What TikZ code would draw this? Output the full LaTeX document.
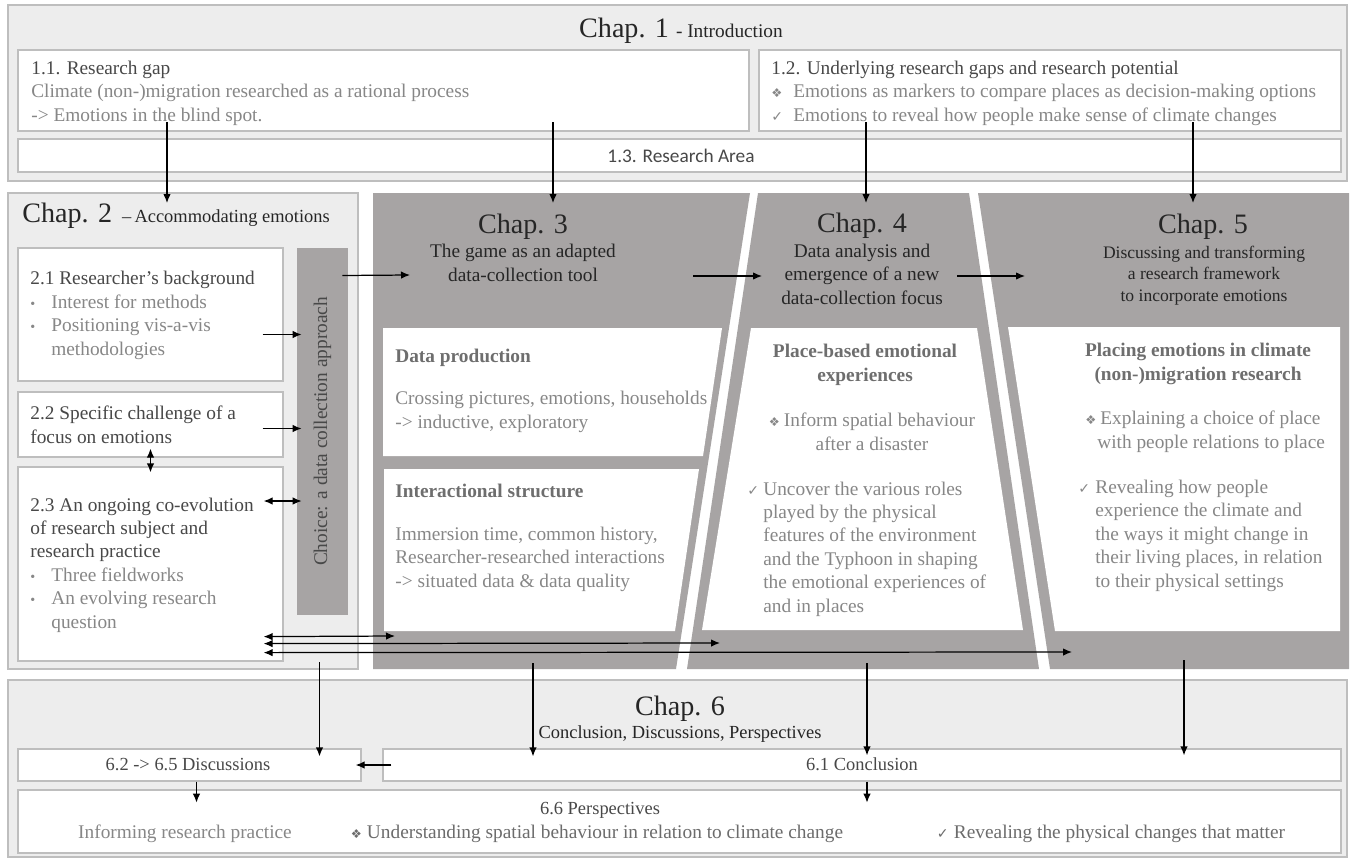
\documentclass[tikz,border=0pt]{standalone}
\usepackage{fontspec}
\setmainfont{Liberation Serif}
\newfontfamily\calibfont{Carlito}
\newfontfamily\symbfont{DejaVu Sans}
\usetikzlibrary{calc}
\usetikzlibrary{fit}
\usetikzlibrary{arrows.meta}

\definecolor{lightbg}{RGB}{237,237,237}
\definecolor{edgegray}{RGB}{190,190,190}
\definecolor{chapdark}{RGB}{167,164,164}
\definecolor{titlecol}{RGB}{38,38,38}
\definecolor{headcol}{RGB}{72,72,72}
\definecolor{bodycol}{RGB}{135,135,135}
\definecolor{boldcol}{RGB}{110,110,110}

\newcommand{\bigsz}{\fontsize{16}{18}\selectfont}
\newcommand{\txtsz}{\fontsize{11}{13.3}\selectfont}
\newcommand{\smallsz}{\fontsize{10.5}{12}\selectfont}
\newcommand{\dia}[1]{\makebox[#1][l]{\symbfont\fontsize{7}{8}\selectfont ❖}}
\newcommand{\chk}[1]{\makebox[#1][l]{\symbfont\fontsize{8}{8}\selectfont ✓}}
\newcommand{\blt}{\makebox[0.42cm][l]{\fontsize{8}{8}\selectfont\textbullet}}

\tikzset{
  bgbox/.style={draw=edgegray, fill=lightbg, line width=0.7pt, inner sep=0pt},
  wbox/.style={draw=edgegray, fill=white, line width=0.7pt, inner sep=0pt},
  bodytxt/.style={inner sep=0pt, align=left, font=\txtsz, text=bodycol},
  chaptitle/.style={inner sep=0pt, align=center, text=titlecol},
  boldtxt/.style={inner sep=0pt, align=center, font=\txtsz\bfseries, text=boldcol},
  link/.style={->, line width=0.7pt, black},
  dlink/.style={<->, line width=0.7pt, black}
}

\begin{document}
\begin{tikzpicture}[x=0.02cm,y=-0.02cm,>={Latex[length=1.8mm,width=1.5mm]}]
\fill[white] (0,0) rectangle (1351,862);
\useasboundingbox (0,0) rectangle (1351,862);

% Chap. 1
\node (C1) [bgbox, fit={(8,5) (1347,181)}] {};
\node (R11) [wbox, fit={(18,50) (749,131)}] {};
\node (R12) [wbox, fit={(759,50) (1341,131)}] {};
\node (R13) [wbox, fit={(18,139) (1341,172)}] {};
\node (H1) at (681,37) [chaptitle, anchor=base] {\bigsz Chap. 1 {\txtsz - Introduction}};
% multi-line nodes: base = last line
\node (T11) at (31,121) [bodytxt, anchor=base west] {\textcolor{headcol}{1.1. Research gap}\\
  Climate (non-)migration researched as a rational process\\
  -> Emotions in the blind spot.};
\node (T12) at (771,121) [bodytxt, anchor=base west] {\textcolor{headcol}{1.2. Underlying research gaps and research potential}\\
  \dia{0.44cm}Emotions as markers to compare places as decision-making options\\
  \chk{0.44cm}Emotions to reveal how people make sense of climate changes};
\node (T13) at (681,162) [inner sep=0pt, anchor=base, text=headcol] {\calibfont\txtsz 1.3. Research Area};

% Chap. 2
\node (C2) [bgbox, fit={(8,193) (358,669)}] {};
\node (R21) [wbox, fit={(18,248) (283,381)}] {};
\node (R22) [wbox, fit={(18,392) (283,457)}] {};
\node (R23) [wbox, fit={(18,467) (283,661)}] {};
\node (BAR) [fill=chapdark, inner sep=0pt, fit={(297,248) (348,615)}] {};
\node (H2) at (22,222) [chaptitle, anchor=base west] {\bigsz Chap. 2 {\fontsize{10.5}{12}\selectfont \,–\,Accommodating emotions}};
\node (T21) at (30,355) [bodytxt, anchor=base west] {\textcolor{headcol}{2.1 Researcher’s background}\\
  \blt Interest for methods\\
  \blt Positioning vis-a-vis\\
  \hspace*{0.42cm}methodologies};
\node (T22) at (30,443) [bodytxt, anchor=base west, text=headcol] {2.2 Specific challenge of a\\focus on emotions};
\node (T23) at (30,628) [bodytxt, anchor=base west] {\textcolor{headcol}{2.3 An ongoing co-evolution}\\
  \textcolor{headcol}{of research subject and}\\
  \textcolor{headcol}{research practice}\\
  \blt Three fieldworks\\
  \blt An evolving research\\
  \hspace*{0.42cm}question};
\node (TB) at (BAR.center) [rotate=90, inner sep=0pt, font=\txtsz, text=headcol] {Choice: a data collection approach};

% Chap. 3
\fill[chapdark] (373,193) -- (750,193) -- (676,669) -- (373,669) -- cycle;
\fill[white] (383,328) -- (722,328) -- (703,456) -- (383,456) -- cycle;
\fill[white] (384,469) -- (699,469) -- (675,631) -- (384,631) -- cycle;
\node (H3) at (523,233) [chaptitle, anchor=base] {\bigsz Chap. 3};
\node (S3) at (523,281) [chaptitle, anchor=base, font=\txtsz] {The game as an adapted\\data-collection tool};
\node (T31) at (395,362) [boldtxt, anchor=base west] {Data production};
\node (T32) at (395,428) [bodytxt, anchor=base west] {Crossing pictures, emotions, households\\-> inductive, exploratory};
\node (T33) at (395,497) [boldtxt, anchor=base west] {Interactional structure};
\node (T34) at (395,587) [bodytxt, anchor=base west] {Immersion time, common history,\\Researcher-researched interactions\\-> situated data \& data quality};

% Chap. 4
\fill[chapdark] (758,193) -- (969,193) -- (1039,669) -- (687,669) -- cycle;
\fill[white] (751,328) -- (977,328) -- (1023,630) -- (702,630) -- cycle;
\node (H4) at (862,232) [chaptitle, anchor=base] {\bigsz Chap. 4};
\node (S4) at (862,304) [chaptitle, anchor=base, font=\txtsz] {Data analysis and\\emergence of a new\\data-collection focus};
\node (T41) at (865,381) [boldtxt, anchor=base] {Place-based emotional\\experiences};
\node (T42) at (872,450) [bodytxt, anchor=base, align=center] {\dia{0.3cm}Inform spatial behaviour\\after a disaster};
\node (T43) at (747,612) [bodytxt, anchor=base west] {\chk{0.32cm}Uncover the various roles\\
  \hspace*{0.32cm}played by the physical\\
  \hspace*{0.32cm}features of the environment\\
  \hspace*{0.32cm}and the Typhoon in shaping\\
  \hspace*{0.32cm}the emotional experiences of\\
  \hspace*{0.32cm}and in places};

% Chap. 5
\fill[chapdark] (978,193) -- (1349,193) -- (1349,669) -- (1050,669) -- cycle;
\fill[white] (1008,327) -- (1340,327) -- (1340,631) -- (1055,631) -- cycle;
\node (H5) at (1203,233) [chaptitle, anchor=base] {\bigsz Chap. 5};
\node (S5) at (1204,301) [chaptitle, anchor=base, font=\fontsize{10}{12.2}\selectfont] {Discussing and transforming\\a research framework\\to incorporate emotions};
\node (T51) at (1198,380) [boldtxt, anchor=base] {Placing emotions in climate\\(non-)migration research};
\node (T52) at (1085,448) [bodytxt, anchor=base west] {\dia{0.3cm}Explaining a choice of place\\\hspace*{0.24cm}with people relations to place};
\node (T53) at (1078,587) [bodytxt, anchor=base west] {\chk{0.34cm}Revealing how people\\
  \hspace*{0.34cm}experience the climate and\\
  \hspace*{0.34cm}the ways it might change in\\
  \hspace*{0.34cm}their living places, in relation\\
  \hspace*{0.34cm}to their physical settings};

% Chap. 6
\node (C6) [bgbox, fit={(8,680) (1347,857)}] {};
\node (R62) [wbox, fit={(18,749) (361,781)}] {};
\node (R61) [wbox, fit={(383,749) (1341,781)}] {};
\node (R66) [wbox, fit={(18,790) (1341,853)}] {};
\node (H6) at (680,715) [chaptitle, anchor=base] {\bigsz Chap. 6};
\node (S6) at (680,738) [chaptitle, anchor=base, font=\smallsz] {Conclusion, Discussions, Perspectives};
\node (T62) at (188,770) [inner sep=0pt, anchor=base, font=\smallsz, text=headcol] {6.2 -> 6.5 Discussions};
\node (T61) at (862,770) [inner sep=0pt, anchor=base, font=\smallsz, text=headcol] {6.1 Conclusion};
\node (T66) at (600,814) [inner sep=0pt, anchor=base, font=\smallsz, text=headcol] {6.6 Perspectives};
\node (T67) at (185,838) [inner sep=0pt, anchor=base, font=\txtsz, text=bodycol] {Informing research practice};
\node (T68) at (597,838) [inner sep=0pt, anchor=base, font=\txtsz, text=bodycol!80!black] {\dia{0.32cm}Understanding spatial behaviour in relation to climate change};
\node (T69) at (1111,838) [inner sep=0pt, anchor=base, font=\txtsz, text=bodycol!80!black] {\chk{0.34cm}Revealing the physical changes that matter};

% arrow ends
\coordinate (a1) at (167,122);
\coordinate (a2) at (553,122);
\coordinate (a3) at (866,122);
\coordinate (a4) at (1193,122);
\coordinate (b1) at (167,203);
\coordinate (b2) at (553,203);
\coordinate (b3) at (866,203);
\coordinate (b4) at (1193,203);
\coordinate (c3) at (410,275);
\coordinate (d3) at (693,276);
\coordinate (c4) at (762,276);
\coordinate (d4) at (957,276);
\coordinate (c5) at (1025,276);
\coordinate (e1) at (395,636);
\coordinate (e2) at (720,643);
\coordinate (e3) at (1072,652);
\coordinate (f3) at (533,663);
\coordinate (f4) at (867,663);
\coordinate (f5) at (1184,660);

% Chap. 1 -> chapters
\draw [link] (a1) -- (b1);
\draw [link] (a2) -- (b2);
\draw [link] (a3) -- (b3);
\draw [link] (a4) -- (b4);

% inside Chap. 2
\draw [link] ($(R21.east)+(-21,20)$) -- ($(BAR.west |- R21.east)+(5,20)$);
\draw [link] ($(R22.east)+(-21,4)$) -- ($(BAR.west |- R22.east)+(5,4)$);
\draw [dlink] ($(R23.east)+(-20,-63)$) -- ($(BAR.west |- R23.east)+(5,-63)$);
\draw [dlink] ($(R22.south)+(0,-9)$) -- ($(R23.north)+(0,6)$);

% along the chapters
\draw [link] ($(BAR.east)+(-6,-156)$) -- (c3);
\draw [link] (d3) -- (c4);
\draw [link] (d4) -- (c5);
\draw [dlink] ($(R23.south east)+(-20,-25)$) -- (e1);
\draw [dlink] ($(R23.south east)+(-20,-18)$) -- (e2);
\draw [dlink] ($(R23.south east)+(-20,-9)$) -- (e3);

% to Chap. 6
\draw [link] ($(BAR.south)+(-3,47)$) -- ($(R62.north)+(130,8)$);
\draw [link] (f3) -- ($(R61.north -| f3)+(0,8)$);
\draw [link] (f4) -- ($(R61.north -| f4)+(0,7)$);
\draw [link] (f5) -- ($(R61.north -| f5)+(0,7)$);
\draw [link] ($(R61.west)+(9,0)$) -- ($(R62.east)+(-6,0)$);
\draw [link] ($(R62.south)+(7,0)$) -- ($(R62.south)+(7,21)$);
\draw [link] (R61.south -| f4) -- ($(R61.south -| f4)+(0,21)$);
\end{tikzpicture}
\end{document}
